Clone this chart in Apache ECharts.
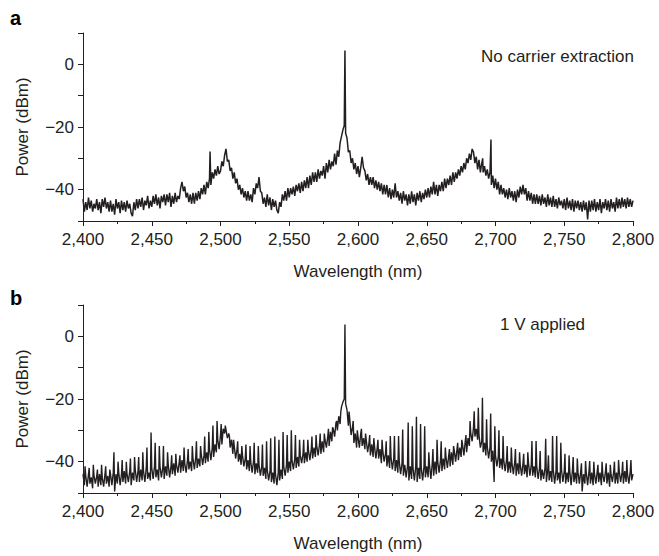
<!DOCTYPE html>
<html>
<head>
<meta charset="utf-8">
<script src="https://cdn.jsdelivr.net/npm/echarts@6/dist/echarts.min.js"></script>
<style>
html,body{margin:0;padding:0;background:#fff;}
#chart{width:659px;height:556px;}
</style>
</head>
<body>
<div id="chart"></div>
<script>
// ---- data ----
const wavelengthStart = 2400;   // nm, first sample
const wavelengthStep = 1;       // nm between samples
const xTickValues = [2400, 2450, 2500, 2550, 2600, 2650, 2700, 2750, 2800];
const yTickLabels = [0, -20, -40];
const panelLabels = ['a', 'b'];
const panelNotes = ['No carrier extraction', '1 V applied'];

// Panel a: power (dBm), one value per nm from 2400 to 2800
const powerA = [
-43,-47,-44,-46.5,-42.5,-46,-43.5,-47,-44.5,-46,
-43,-46.5,-44,-47.5,-43,-45.5,-42.5,-46,-44,-47,
-43.5,-47,-44.5,-48,-43,-46,-44,-47.5,-43.5,-46.5,
-44,-47,-43.5,-46,-44.5,-47.5,-48.5,-44,-46.5,-43,
-46,-43,-45.5,-42.5,-46.5,-43.5,-45,-42,-46,-43.5,
-45.5,-42,-44.5,-41.5,-45,-42.5,-46,-42,-44,-41.5,
-45,-41.5,-44,-41,-45.5,-42,-44.5,-41,-44,-42,
-43,-39.5,-37.5,-40.5,-39,-42.5,-41,-44,-41.5,-44.5,
-41,-44.5,-41,-43.5,-40.5,-43,-39.5,-41.5,-38.5,-41.5,
-37.5,-39.5,-36.5,-38.5,-34.5,-36.5,-33.5,-35.5,-32.5,-35,
-34,-31,-32.5,-29,-27,-31,-30.5,-34,-33,-36.5,
-34.5,-38,-36.5,-40,-38.5,-41.5,-39.5,-42.5,-40.5,-43.5,
-40.5,-43.5,-41.5,-44,-39.5,-41.5,-38,-39.5,-36,-40.5,
-41,-44.5,-42.5,-45.5,-41.5,-45,-42.5,-46.5,-43,-45.5,
-43.5,-46.5,-47.5,-44,-45.5,-41.5,-43.5,-40.5,-43.5,-39.5,
-42.5,-39.5,-41.5,-39,-42,-38.5,-40.5,-38,-41,-37.5,
-40.5,-37,-39.5,-36,-39.5,-35.5,-38.5,-34.5,-37.5,-34.5,
-37.5,-33.5,-36.5,-34,-35.5,-32.5,-36.5,-31.5,-34.5,-30.5,
-33.5,-31,-32.5,-28.5,-32,-27.5,-29.5,-25,-23,-21,
-19.5,-22,-23.5,-28,-27.5,-31.5,-30,-33.5,-31.5,-35,
-32.5,-36,-33,-29.5,-33,-34,-37,-35,-38.5,-36,
-38.5,-36,-39.5,-37,-40,-37.5,-40.5,-38,-41.5,-38.5,
-41.5,-38.5,-42.5,-39.5,-43,-40,-42.5,-38,-42.5,-40.5,
-43.5,-41,-44.5,-40.5,-43.5,-41.5,-45,-41.5,-44.5,-40.5,
-44,-41.5,-45,-41,-43.5,-40.5,-44,-41,-43,-40,
-42.5,-39.5,-42.5,-39,-41.5,-37.5,-41.5,-38.5,-42,-38.5,
-40.5,-37.5,-40.5,-36.5,-39.5,-36.5,-38.5,-35.5,-38.5,-34.5,
-37.5,-34.5,-36.5,-33.5,-35.5,-32.5,-34.5,-31.5,-33.5,-30,
-31.5,-28.5,-30.5,-27,-28,-31.5,-29.5,-33.5,-30.5,-34.5,
-31.5,-34.5,-32.5,-35.5,-33.5,-36.5,-34.5,-38.5,-35.5,-39.5,
-36.5,-40,-37.5,-41.5,-38.5,-41.5,-39.5,-42.5,-40,-43,
-39.5,-42.5,-40.5,-43.5,-40.5,-44,-40,-42.5,-39,-41.5,
-38.5,-41.5,-39.5,-43.5,-40.5,-43.5,-41,-44.5,-41.5,-44.5,
-41.5,-44.5,-42,-45,-41.5,-44.5,-42.5,-45.5,-41.5,-45,
-42.5,-45.5,-42,-45.5,-43,-46,-42.5,-45,-43.5,-46,
-43,-46.5,-42.5,-46,-43.5,-46.5,-43,-47,-43.5,-46,
-43.5,-46.5,-44,-47,-43.5,-46.5,-44,-49.5,-43.5,-47,
-43.5,-46.5,-43,-47,-44,-46.5,-43,-47.5,-44,-46,
-43,-46.5,-43.5,-47,-43,-46,-44,-47,-42.5,-46,
-43,-46,-42.5,-45.5,-43,-46,-42.5,-45.5,-43,-45.5,
-43.5
];
const spikeNmA = [2492.4, 2590.5, 2690.7, 2696.7];
const spikeDbA = [-27.8, 4.4, -30, -24];

// Panel b: power (dBm), one value per nm from 2400 to 2800
const powerB = [
-44,-47.5,-44.5,-48,-44,-47,-45,-48.5,-44.5,-47,
-44.5,-48,-44,-47.5,-45,-48,-44,-47,-44.5,-48,
-44,-47.5,-43.5,-49.5,-44,-47,-43.5,-47.5,-44,-46.5,
-43,-47,-44,-46.5,-43,-47.5,-43.5,-46,-42.5,-46.5,
-43,-46.5,-42.5,-46,-43,-46.5,-42,-45.5,-43.5,-46,
-42,-45.5,-41.5,-45,-42.5,-46,-41.5,-45,-42,-45.5,
-41.5,-44.5,-41,-45,-41.5,-44,-40.5,-44.5,-41,-43.5,
-40,-43.5,-39.5,-43,-40.5,-43.5,-39.5,-42.5,-40,-43,
-39,-42.5,-38.5,-42,-39,-41.5,-37.5,-41,-38,-40.5,
-37,-40,-36,-39.5,-35.5,-38.5,-34.5,-37,-33,-36,
-31.5,-34.5,-29.5,-31,-28.5,-32.5,-31,-35.5,-33,-37.5,
-35,-39,-36,-40,-37.5,-41,-38,-41.5,-39,-42.5,
-39.5,-43,-40,-43.5,-40,-44,-40.5,-43.5,-41,-44.5,
-41.5,-44.5,-42,-45.5,-42.5,-46,-43,-46.5,-43.5,-47,
-44,-47.5,-43.5,-46,-42.5,-45.5,-41.5,-44.5,-41,-43.5,
-40,-43,-39.5,-42.5,-39,-42,-38.5,-41.5,-38,-40.5,
-37.5,-40.5,-37,-40,-36.5,-39.5,-36,-39,-35.5,-38.5,
-35,-38,-34.5,-37.5,-33.5,-37,-33,-35.5,-32,-35,
-30.5,-33.5,-29.5,-32,-27.5,-30,-25.5,-28,-22.5,-21,
-20,-21.5,-23.5,-28.5,-26.5,-31.5,-29,-34,-31,-35.5,
-32,-35.5,-31,-35,-32.5,-36,-33,-37,-34,-38,
-34.5,-38.5,-35,-39,-35.5,-39,-36,-40.5,-36.5,-40,
-37.5,-41.5,-38,-42,-38.5,-42.5,-39,-43,-39.5,-43.5,
-40,-44,-40.5,-44.5,-41,-45,-41.5,-46,-41.5,-45.5,
-42,-46,-41.5,-46.5,-42,-45.5,-42,-46,-41.5,-45,
-41.5,-45,-41,-45.5,-40.5,-44.5,-40,-44,-40,-43.5,
-39.5,-43,-39,-42.5,-38.5,-42,-38,-41.5,-37,-41,
-36.5,-40,-36,-39.5,-35.5,-38.5,-34.5,-38,-33.5,-37,
-32.5,-35,-31,-33.5,-29,-32,-29.5,-33,-31.5,-35.5,
-33.5,-37,-34,-38,-35,-39,-35.5,-40,-36.5,-46.5,
-38,-41.5,-38.5,-42,-39,-42.5,-39.5,-43,-39.5,-43.5,
-40,-43.5,-40.5,-44,-40,-44.5,-40.5,-44,-41,-44.5,
-40.5,-44,-41,-45,-40.5,-44.5,-41,-44.5,-41.5,-45,
-41.5,-45.5,-42,-46,-42.5,-45.5,-42,-46.5,-42.5,-46,
-43,-46.5,-42.5,-47,-43,-46,-43.5,-47,-42.5,-46.5,
-43,-47,-43.5,-46.5,-43,-47.5,-42.5,-46.5,-43.5,-47,
-43.5,-47,-43,-49.5,-44,-47,-43.5,-47.5,-43,-47,
-43.5,-47.5,-44,-47,-43,-46.5,-43.5,-47.5,-44,-46.5,
-43,-47,-43.5,-48,-44,-46.5,-43,-47,-43.5,-47,
-43,-46.5,-43.5,-47,-43,-46.5,-44,-47,-43,-46,
-44
];
// Panel b: comb of narrow side-mode spikes (wavelength nm, peak dBm)
const spikeNmB = [
2401.5,2404.5,2407.5,2410.5,2413.5,2416.5,2419.5,2422.5,2425.5,2428.5,
2431.5,2434.5,2437.5,2440.5,2443.5,2446.5,2449.5,2452.5,2455.5,2458.5,
2461.5,2464.5,2467.5,2470.5,2473.5,2476.5,2479.5,2482.5,2485.5,2488.5,
2491.5,2494.5,2497.5,2500.5,2503.5,2506.5,2509.5,2512.5,2515.5,2518.5,
2521.5,2524.5,2527.5,2530.5,2533.5,2536.5,2539.5,2542.5,2545.5,2548.5,
2551.5,2554.5,2557.5,2560.5,2563.5,2566.5,2569.5,2572.5,2575.5,2578.5,
2581.5,2584.5,2587.5,2590.5,2593.5,2596.5,2599.5,2602.5,2605.5,2608.5,
2611.5,2614.5,2617.5,2620.5,2623.5,2626.5,2629.5,2632.5,2636.5,2639.5,
2642.5,2645.5,2648.5,2651.5,2654.5,2657.5,2660.5,2663.5,2666.5,2669.5,
2672.5,2675.5,2678.5,2681.5,2684.5,2687.5,2690.5,2693.5,2696.5,2699.5,
2702.5,2705.5,2708.5,2711.5,2714.5,2717.5,2720.5,2723.5,2726.5,2729.5,
2732.5,2736.5,2738.5,2741.5,2744.5,2747.5,2750.5,2753.5,2756.5,2759.5,
2762.5,2765.5,2768.5,2771.5,2774.5,2777.5,2780.5,2783.5,2786.5,2789.5,
2792.5,2795.5,2798.5
];
const spikeDbB = [
-41.5,-42,-41,-42.5,-41,-41.5,-42.5,-37,-40,-39.5,
-40,-39,-38.5,-38.5,-37,-35.5,-30.7,-34,-35,-35,
-37,-38,-37.5,-38,-35.5,-36,-35,-33.5,-35,-32,
-30.5,-28.5,-27,-28,-28.5,-32,-33,-33.5,-35,-34.5,
-35,-34,-35,-34.5,-33.5,-32.5,-32,-33,-30.5,-31.5,
-30,-31.5,-33,-33,-33,-32,-31.5,-31,-31,-29.5,
-29,-27,-24,3.8,-24,-27,-30,-29.5,-31,-31.5,
-32.5,-33,-33,-33.5,-31.8,-31.8,-31.8,-29.7,-27.5,-28.7,
-25.7,-28,-28.7,-37,-36,-33,-33.5,-35.5,-36,-35,
-34,-33,-31.5,-27,-23.9,-22.8,-19.6,-26.5,-24.6,-28.7,
-30,-31.8,-35,-35.5,-36,-37,-37.5,-37,-33.4,-33.4,
-36.6,-32.7,-38,-31.8,-31.8,-34,-37.5,-38,-38.5,-39,
-40.5,-39.8,-39.8,-40,-41,-40,-40.5,-41,-40,-39.5,
-40,-39.5,-39.5
];

// ---- build series data ----
function buildSeries(values, spikeNm, spikeDb) {
  const pts = values.map((v, i) => [wavelengthStart + i * wavelengthStep, v]);
  spikeNm.forEach((x, i) => pts.push([x, spikeDb[i]]));
  pts.sort((a, b) => a[0] - b[0]);
  return pts;
}
const dataA = buildSeries(powerA, spikeNmA, spikeDbA);
const dataB = buildSeries(powerB, spikeNmB, spikeDbB);

const FONT = '"Liberation Sans", Arial, Helvetica, sans-serif';
const INK = '#231f20';

function xAxisFor(gridIndex) {
  return {
    type: 'value', gridIndex: gridIndex, min: 2400, max: 2800, interval: 50,
    name: 'Wavelength (nm)', nameLocation: 'middle', nameGap: 42,
    nameTextStyle: { fontFamily: FONT, fontSize: 17, color: INK },
    axisLine: { onZero: false, lineStyle: { color: INK, width: 1 } },
    axisTick: { show: true, length: 5, lineStyle: { color: INK } },
    minorTick: { show: true, splitNumber: 2, length: 3, lineStyle: { color: INK } },
    splitLine: { show: false },
    axisLabel: {
      margin: 10, fontFamily: FONT, fontSize: 17, color: INK,
      formatter: v => xTickValues.indexOf(v) >= 0 ? v.toLocaleString('en-US') : ''
    }
  };
}
function yAxisFor(gridIndex) {
  return {
    type: 'value', gridIndex: gridIndex, min: -50, max: 10, interval: 10,
    name: 'Power (dBm)', nameLocation: 'middle', nameGap: 52,
    nameTextStyle: { fontFamily: FONT, fontSize: 17, color: INK },
    axisLine: { show: true, onZero: false, lineStyle: { color: INK, width: 1 } },
    axisTick: { show: true, length: 5, lineStyle: { color: INK } },
    splitLine: { show: false },
    axisLabel: {
      margin: 9, fontFamily: FONT, fontSize: 17, color: INK,
      formatter: v => yTickLabels.indexOf(v) >= 0 ? (v < 0 ? '\u2212' + Math.abs(v) : String(v)) : ''
    }
  };
}

const chart = echarts.init(document.getElementById('chart'), null, { renderer: 'svg' });
chart.setOption({
  animation: false,
  backgroundColor: '#ffffff',
  grid: [
    { left: 83, top: 33, width: 550, height: 188, containLabel: false },
    { left: 83, top: 305, width: 550, height: 188, containLabel: false }
  ],
  xAxis: [xAxisFor(0), xAxisFor(1)],
  yAxis: [yAxisFor(0), yAxisFor(1)],
  graphic: [
    { type: 'text', left: 10, top: 8, style: { text: panelLabels[0], font: 'bold 20px ' + FONT, fill: '#000' } },
    { type: 'text', left: 10, top: 288, style: { text: panelLabels[1], font: 'bold 20px ' + FONT, fill: '#000' } },
    { type: 'text', right: 25, top: 48, style: { text: panelNotes[0], font: '17px ' + FONT, fill: INK } },
    { type: 'text', left: 500, top: 316, style: { text: panelNotes[1], font: '17px ' + FONT, fill: INK } }
  ],
  series: [
    { type: 'line', xAxisIndex: 0, yAxisIndex: 0, data: dataA, showSymbol: false, sampling: false,
      lineStyle: { color: INK, width: 1.5 }, silent: true },
    { type: 'line', xAxisIndex: 1, yAxisIndex: 1, data: dataB, showSymbol: false, sampling: false,
      lineStyle: { color: INK, width: 1.4 }, silent: true }
  ]
});
</script>
</body>
</html>
